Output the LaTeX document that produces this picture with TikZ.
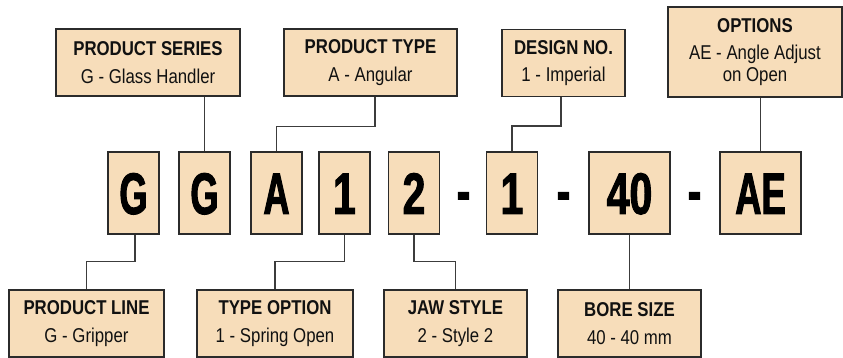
\documentclass[tikz,border=0pt]{standalone}
\usepackage{fontspec}
\setmainfont[FakeStretch=0.84]{Liberation Sans}
\newfontfamily\bigf[FakeStretch=0.62, FakeBold=1.6]{Liberation Sans Bold}
\newfontfamily\bigd[FakeStretch=0.70, FakeBold=1.6]{Liberation Sans Bold}
\definecolor{peach}{HTML}{F7DDBA}
\definecolor{edge}{HTML}{2B2B2B}
\definecolor{conn}{HTML}{3C3C3C}
\definecolor{ink}{HTML}{111111}
\tikzset{
  lbl/.style={draw=edge, line width=1.3pt, fill=peach, inner sep=0pt, minimum height=67pt, align=center, text=ink,
    font=\fontsize{20}{21.5}\selectfont},
  big/.style={draw=edge, line width=1.3pt, fill=peach, inner sep=0pt, minimum height=82pt, minimum width=51pt,
    text=black, text height=42pt, text depth=0pt, font=\fontsize{58.6}{60}\selectfont\bigf},
  bigdig/.style={big, font=\fontsize{58.6}{60}\selectfont\bigd},
  dashmark/.style={anchor=base, inner sep=0pt, text=black, font=\fontsize{58.6}{60}\selectfont\bigd},
  conline/.style={draw=conn, line width=1.3pt}
}
\begin{document}
\begin{tikzpicture}[x=1pt, y=-1pt]
\useasboundingbox (0,0) rectangle (843,358);
% top labels
\node[lbl, minimum width=184pt] (ps) at (148,62.5) {\textbf{PRODUCT SERIES}\\[6pt]G - Glass Handler};
\node[lbl, minimum width=173pt] (pt) at (370.5,62.5) {\textbf{PRODUCT TYPE}\\[6pt]A - Angular};
\node[lbl, minimum width=123pt] (dn) at (563.5,63) {\textbf{DESIGN NO.}\\[6pt]1 - Imperial};
\node[lbl, minimum width=174pt, minimum height=90pt] (op) at (755,52) {\textbf{OPTIONS}\\[6pt]AE - Angle Adjust\\on Open};
% code boxes
\node[big] (g1) at (133.5,193) {G};
\node[big] (g2) at (204.5,193) {G};
\node[big] (a) at (276.5,193) {A};
\node[bigdig] (o1) at (344.5,193) {1};
\node[bigdig] (t2) at (414,193) {2};
\node[bigdig] (d1) at (512,193) {1};
\node[bigdig, minimum width=81pt] (b40) at (629.5,193) {40};
\node[big, minimum width=81pt] (ae) at (760.5,193) {AE};
\node[dashmark] (h1) at (463.5,211) {-};
\node[dashmark] (h2) at (563.5,211) {-};
\node[dashmark] (h3) at (694.5,211) {-};
% bottom labels
\node[lbl, minimum width=155pt] (pl) at (86.5,323.5) {\textbf{PRODUCT LINE}\\[6pt]G - Gripper};
\node[lbl, minimum width=156pt] (to) at (275,323.5) {\textbf{TYPE OPTION}\\[6pt]1 - Spring Open};
\node[lbl, minimum width=143pt] (js) at (455.5,323.5) {\textbf{JAW STYLE}\\[6pt]2 - Style 2};
\node[lbl, minimum width=143pt] (bs) at (629.5,323.5) {\textbf{BORE SIZE}\\[6pt]40 - 40 mm};
% connectors
\draw[conline] (g2.north) -- (g2.north |- ps.south);
\draw[conline] ([xshift=4.5pt]pt.south) -- ++(0,30) -| (a.north);
\draw[conline] ([xshift=-2.5pt]dn.south) -- ++(0,29) -| (d1.north);
\draw[conline] (ae.north) -- (ae.north |- op.south);
\draw[conline] ([xshift=1.5pt]g1.south) -- ++(0,27) -| (pl.north);
\draw[conline] (o1.south) -- ++(0,27) -| (to.north);
\draw[conline] (t2.south) -- ++(0,27) -| (js.north);
\draw[conline] (b40.south) -- (bs.north);
\end{tikzpicture}
\end{document}
